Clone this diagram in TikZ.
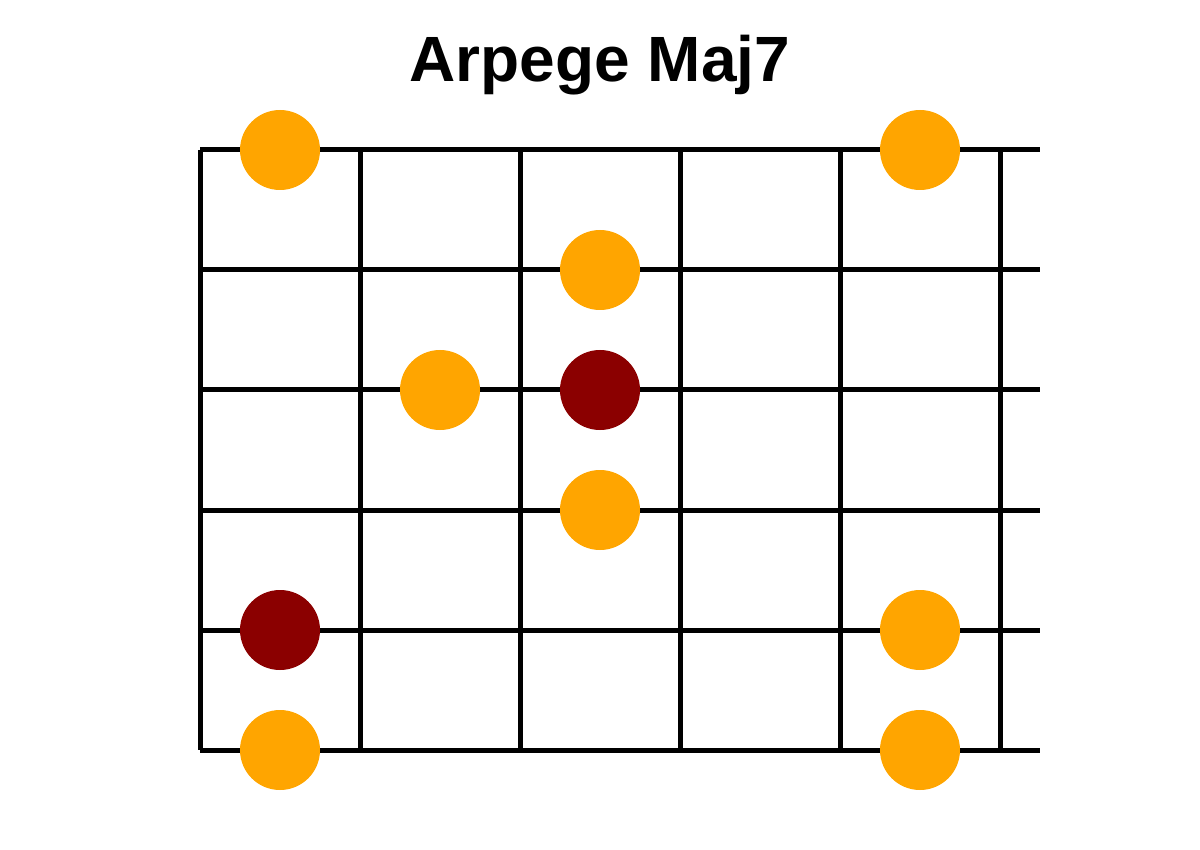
\documentclass[tikz,border=0pt]{standalone}
\usepackage{fontspec}
\setmainfont{Liberation Sans}
\definecolor{dotorange}{HTML}{FFA500}
\definecolor{dotred}{HTML}{8B0000}
\begin{document}
\begin{tikzpicture}[x=1pt,y=-1pt,
  gridline/.style={line width=5pt,black},
  orangedot/.style={circle,fill=dotorange,minimum size=80pt,inner sep=0pt},
  reddot/.style={circle,fill=dotred,minimum size=80pt,inner sep=0pt}]
\useasboundingbox (0,0) rectangle (1200,850);
\node[font=\bfseries\fontsize{64}{77}\selectfont,anchor=base] (title) at (600,82) {Arpege Maj7};
% strings
\foreach \y in {150,270,390,510,630,750}
  \draw[gridline] (200,\y) -- (1040,\y);
% frets
\foreach \x in {200,360,520,680,840,1000}
  \draw[gridline] (\x,150) -- (\x,750);
% dots
\node[orangedot] (d1) at (280,150) {};
\node[orangedot] (d2) at (920,150) {};
\node[orangedot] (d3) at (600,270) {};
\node[orangedot] (d4) at (440,390) {};
\node[reddot] (r1) at (600,390) {};
\node[orangedot] (d5) at (600,510) {};
\node[reddot] (r2) at (280,630) {};
\node[orangedot] (d6) at (920,630) {};
\node[orangedot] (d7) at (280,750) {};
\node[orangedot] (d8) at (920,750) {};
\end{tikzpicture}
\end{document}
